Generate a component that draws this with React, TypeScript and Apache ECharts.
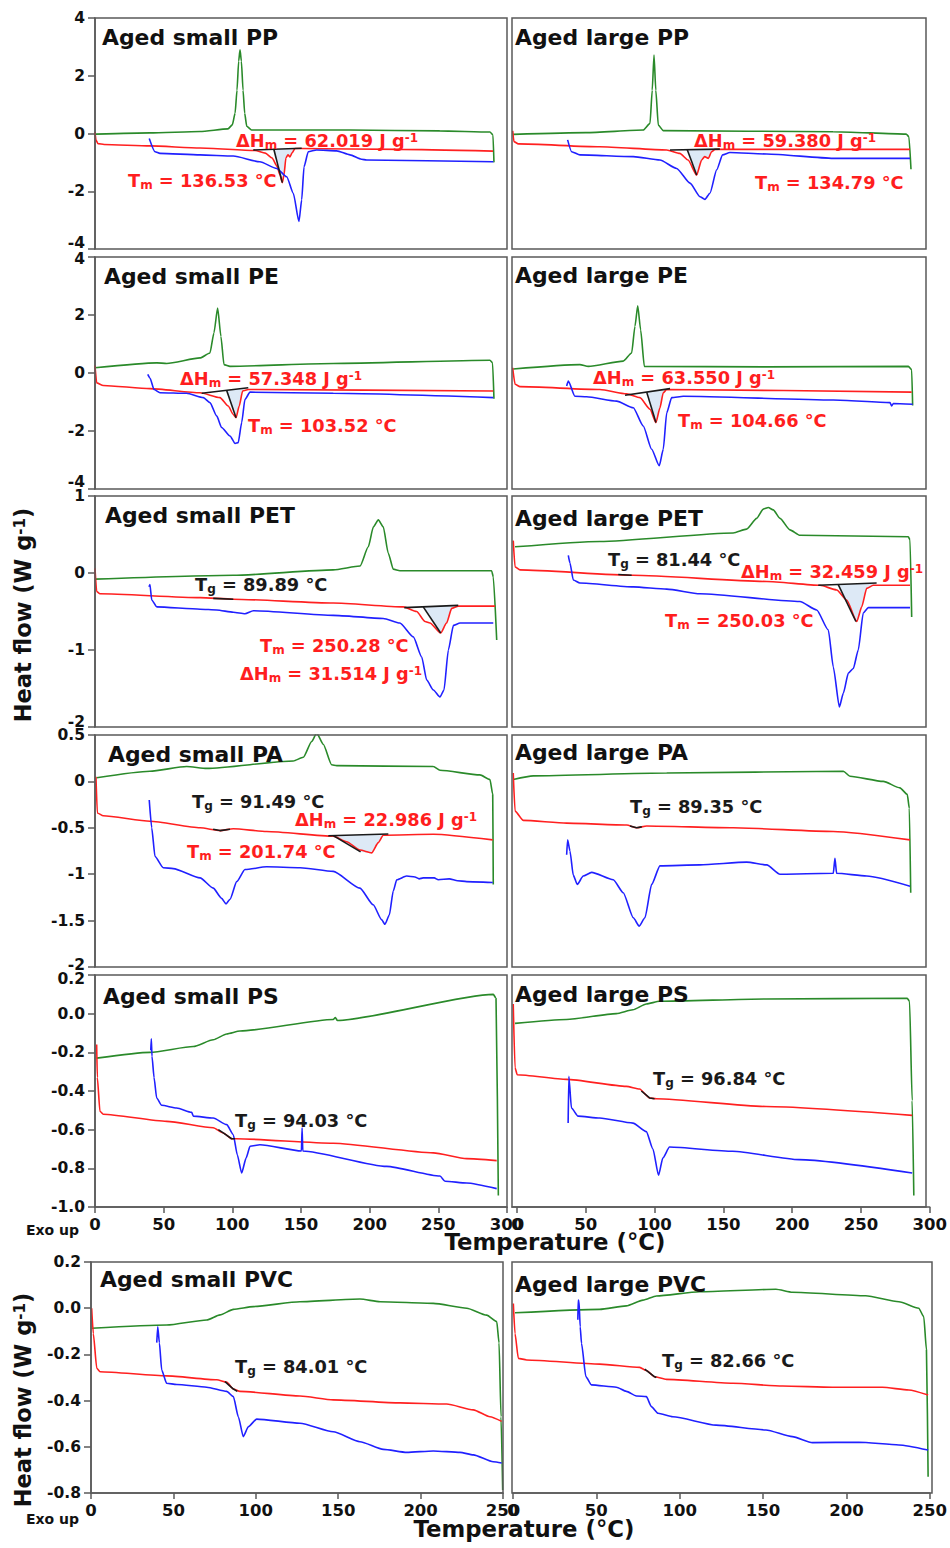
import React, { useEffect, useRef } from "react";
import * as echarts from "echarts";

type Pt = [number, number];

// ---------------- DATA (temperature °C, heat flow W g-1) ----------------
// PP small
const ppSmallGreen: Pt[] = [[0.7,-0.02],[40,0.02],[76.5,0.07],[96.8,0.16],[100,0.3],[102,0.7],[103.4,1.5],[104.6,2.5],[105.6,2.9],[106.6,2.5],[107.8,1.5],[109,0.7],[110.5,0.25],[114,0.12],[185.7,0.12],[251,0.09],[287.6,0.05],[289.8,-0.05],[290.5,-1.0]];
const ppSmallRed: Pt[] = [[0,0.05],[0.7,-0.23],[2.2,-0.35],[6.6,-0.38],[40,-0.43],[76.5,-0.5],[116.5,-0.59],[124,-0.68],[129,-0.85],[132.5,-1.13],[134.7,-1.44],[136.4,-1.7],[137.6,-1.44],[139,-0.85],[140.5,-0.74],[142,-0.81],[143.4,-0.68],[145.6,-0.52],[149,-0.52],[222,-0.55],[289.8,-0.61]];
const ppSmallBlue: Pt[] = [[39.5,-0.17],[43.7,-0.63],[47.3,-0.69],[76.5,-0.74],[100.7,-0.78],[120,-0.98],[132.3,-1.21],[139.6,-1.5],[144.4,-2.07],[148.5,-3.05],[150.5,-2.3],[152.2,-1.15],[155.3,-0.63],[161.4,-0.57],[176,-0.6],[185.7,-0.74],[194,-0.89],[197.8,-0.92],[290,-0.98]];
const ppSmallFill: Pt[] = [[130.3,-0.565],[150.5,-0.51],[145.6,-0.52],[143.4,-0.68],[142,-0.81],[140.5,-0.74],[139,-0.85],[137.6,-1.44],[136.4,-1.7]];
const ppSmallBase: Pt[] = [[115.2,-0.57],[150.5,-0.51]];
const ppSmallTan: Pt[] = [[130.3,-0.565],[136.4,-1.7]];

// PP large
const ppLargeGreen: Pt[] = [[-2.7,-0.03],[50,0.03],[91.5,0.12],[96.4,0.35],[98,1.5],[99.3,2.72],[100.6,1.5],[102.4,0.29],[106,0.1],[229,0.06],[282,-0.02],[284,-0.11],[285.5,-1.24]];
const ppLargeRed: Pt[] = [[-3.1,0.09],[-2.2,-0.28],[1,-0.36],[60,-0.46],[108.5,-0.57],[118,-0.69],[124,-0.92],[130.2,-1.44],[133.8,-0.92],[136,-0.8],[138.7,-0.86],[141,-0.63],[143.5,-0.55],[284.8,-0.55]];
const ppLargeBlue: Pt[] = [[36.7,-0.22],[39.6,-0.63],[45.6,-0.74],[84.3,-0.8],[103.6,-0.92],[115.7,-1.21],[125.4,-1.72],[132.6,-2.19],[136.2,-2.28],[139.8,-2.07],[144.7,-1.26],[149,-0.74],[154.3,-0.66],[181,-0.71],[229.2,-0.86],[284.8,-0.86]];
const ppLargeFill: Pt[] = [[123.4,-0.565],[147,-0.54],[143.5,-0.55],[141,-0.63],[138.7,-0.86],[136,-0.8],[133.8,-0.92],[130.2,-1.44]];
const ppLargeBase: Pt[] = [[110.9,-0.57],[147,-0.54]];
const ppLargeTan: Pt[] = [[123.4,-0.565],[130.2,-1.44]];

// PE small
const peSmallGreen: Pt[] = [[0,0.18],[45,0.35],[52.2,0.33],[76.5,0.52],[83.7,0.69],[86.6,1.38],[89.3,2.24],[91.7,1.26],[93.9,0.29],[98.3,0.23],[173.5,0.33],[287.6,0.44],[289.5,0.35],[290.5,-0.89]];
const peSmallRed: Pt[] = [[0,0.26],[1.2,-0.34],[6,-0.43],[40,-0.54],[76.5,-0.68],[91,-0.85],[97,-1.14],[100.7,-1.43],[102.7,-1.54],[105,-1.14],[107.5,-0.62],[111.6,-0.57],[290,-0.62]];
const peSmallBlue: Pt[] = [[38.4,-0.05],[40,-0.17],[43,-0.57],[47.3,-0.68],[66.7,-0.7],[78.9,-0.85],[83.7,-1.02],[88.6,-1.48],[92.2,-1.88],[98.3,-2.17],[102,-2.43],[104.3,-2.4],[106.8,-1.71],[109.2,-0.91],[112.9,-0.66],[173.5,-0.7],[290,-0.85]];
const peSmallFill: Pt[] = [[95.9,-0.6],[111.6,-0.51],[108.5,-0.56],[107.5,-0.62],[105,-1.14],[102.7,-1.54]];
const peSmallBase: Pt[] = [[77.7,-0.7],[111.6,-0.51]];
const peSmallTan: Pt[] = [[95.9,-0.6],[102.7,-1.54]];

// PE large
const peLargeGreen: Pt[] = [[-2.7,0.14],[45.6,0.29],[51.7,0.23],[77,0.41],[83.1,0.69],[85.5,1.61],[87.5,2.32],[89.6,1.49],[92.3,0.23],[181,0.21],[283.6,0.23],[286,0.12],[286.7,-1.12]];
const peLargeRed: Pt[] = [[-3.1,0.18],[-1.4,-0.39],[2.2,-0.47],[60.1,-0.57],[79.5,-0.72],[89.1,-0.85],[96.4,-1.25],[100.7,-1.71],[103.6,-1.2],[106,-0.68],[108.5,-0.57],[286,-0.66]];
const peLargeBlue: Pt[] = [[36,-0.45],[37.2,-0.28],[42,-0.8],[50.5,-0.82],[72.2,-0.97],[84.3,-1.2],[91.5,-1.83],[97.6,-2.63],[103.1,-3.2],[106,-2.63],[108.5,-1.37],[112.1,-0.85],[120.5,-0.8],[229.2,-0.93],[270.3,-1.02],[271.5,-1.14],[272.7,-1.05],[286.7,-1.08]];
const peLargeFill: Pt[] = [[94,-0.66],[110.9,-0.54],[108.5,-0.57],[106,-0.68],[103.6,-1.2],[100.7,-1.71]];
const peLargeBase: Pt[] = [[78.3,-0.77],[110.9,-0.54]];
const peLargeTan: Pt[] = [[94,-0.66],[100.7,-1.71]];

// PET small
const petSmallGreen: Pt[] = [[0,-0.08],[100.7,-0.03],[173.5,0.04],[193,0.09],[199,0.34],[202.7,0.6],[206.3,0.69],[209.9,0.6],[213.5,0.26],[217.2,0.05],[222,0.03],[288.8,0.03],[290,-0.05],[292.5,-0.87]];
const petSmallRed: Pt[] = [[0,0.06],[1.2,-0.24],[3.6,-0.27],[76.5,-0.32],[100.7,-0.34],[173.5,-0.39],[224.5,-0.44],[234.2,-0.5],[240.3,-0.63],[243.9,-0.65],[251.7,-0.78],[256,-0.65],[259.7,-0.46],[264.5,-0.43],[291.3,-0.43]];
const petSmallBlue: Pt[] = [[39.3,-0.18],[40,-0.15],[41.3,-0.35],[45,-0.44],[76.5,-0.47],[88.6,-0.48],[100.7,-0.51],[109.2,-0.53],[115.3,-0.49],[173.5,-0.55],[209.9,-0.59],[222,-0.65],[231.8,-0.83],[237.9,-1.09],[241.5,-1.39],[246.4,-1.52],[251.2,-1.61],[254.1,-1.52],[257.3,-1.0],[261,-0.68],[265.8,-0.65],[290,-0.65]];
const petSmallFill: Pt[] = [[239,-0.44],[264.5,-0.42],[259.7,-0.46],[256,-0.65],[251.7,-0.78]];
const petSmallBase: Pt[] = [[225.2,-0.45],[264.5,-0.42]];
const petSmallTan: Pt[] = [[239,-0.44],[251.7,-0.78]];
const petSmallTg: Pt[] = [[86.1,-0.33],[100.7,-0.34]];

// PET large
const petLargeGreen: Pt[] = [[-1.4,0.34],[60.1,0.41],[156.7,0.52],[166.4,0.57],[173.7,0.71],[178.5,0.83],[182.1,0.85],[185.7,0.82],[190.6,0.71],[197.8,0.56],[205,0.49],[283.6,0.47],[284.8,0.43],[286,-0.57]];
const petLargeRed: Pt[] = [[-2.7,0.42],[-1.4,0.08],[2.2,0.04],[84.3,-0.03],[181,-0.11],[219.6,-0.16],[231.7,-0.22],[238.9,-0.35],[246.2,-0.63],[249.8,-0.44],[253.4,-0.2],[258.2,-0.16],[284.8,-0.16]];
const petLargeBlue: Pt[] = [[37.2,0.23],[38.4,0.13],[40.8,-0.09],[45.6,-0.13],[84.3,-0.18],[108.5,-0.21],[132.6,-0.27],[205,-0.37],[217.2,-0.48],[225.6,-0.74],[229.2,-1.22],[233.6,-1.74],[236.5,-1.56],[240.1,-1.3],[243.7,-1.24],[247.3,-1.0],[250.9,-0.52],[254.6,-0.45],[284.8,-0.45]];
const petLargeFill: Pt[] = [[232.8,-0.15],[260.6,-0.13],[253.4,-0.2],[249.8,-0.44],[246.2,-0.63]];
const petLargeBase: Pt[] = [[218.3,-0.16],[260.6,-0.13]];
const petLargeTan: Pt[] = [[232.8,-0.15],[245.6,-0.63]];
const petLargeTg: Pt[] = [[73.4,-0.02],[83.1,-0.03]];

// PA small
const paSmallGreen: Pt[] = [[1.2,0.04],[40,0.11],[66.7,0.16],[81.3,0.14],[144.4,0.22],[151.7,0.26],[157.8,0.43],[161.4,0.52],[166.2,0.4],[172.3,0.18],[176,0.17],[246.4,0.16],[251.2,0.12],[280.3,0.07],[287.6,0.02],[289.6,-0.14],[290,-1.11]];
const paSmallRed: Pt[] = [[0.7,0.05],[1.7,-0.34],[6,-0.37],[40,-0.43],[76.5,-0.5],[91,-0.53],[100.7,-0.51],[125,-0.54],[173.5,-0.59],[183.2,-0.65],[192.9,-0.74],[201.4,-0.77],[206.3,-0.66],[209.9,-0.58],[246.4,-0.57],[289.6,-0.63]];
const paSmallBlue: Pt[] = [[39.5,-0.2],[41.3,-0.5],[43.7,-0.81],[49.7,-0.93],[57,-0.94],[76.5,-1.04],[86.1,-1.15],[92.2,-1.26],[95.4,-1.32],[98.3,-1.27],[103.2,-1.08],[109.2,-0.95],[125,-0.92],[149.3,-0.93],[173.5,-0.97],[192.9,-1.15],[202.6,-1.33],[208.7,-1.49],[211.1,-1.54],[214.3,-1.44],[217.2,-1.18],[219.7,-1.06],[226.9,-1.02],[233,-1.03],[236,-1.05],[239,-1.04],[247,-1.04],[250,-1.06],[258,-1.05],[264,-1.07],[270.6,-1.08],[289.6,-1.09]];
const paSmallFill: Pt[] = [[173.5,-0.584],[213.6,-0.567],[209.9,-0.58],[206.3,-0.66],[201.4,-0.77],[193.4,-0.76]];
const paSmallBase: Pt[] = [[169.9,-0.585],[213.6,-0.567]];
const paSmallTan: Pt[] = [[173.5,-0.584],[193.4,-0.76]];
const paSmallTg: Pt[] = [[86,-0.515],[91,-0.53],[98.3,-0.515]];

// PA large
const paLargeGreen: Pt[] = [[-2.7,0.02],[11.8,0.06],[108.5,0.09],[236.5,0.11],[241.3,0.055],[265.4,0.0],[277.5,-0.07],[282.8,-0.14],[284.3,-0.29],[285.3,-1.2]];
const paLargeRed: Pt[] = [[-2.7,0.09],[-1.4,-0.32],[4.6,-0.42],[36,-0.45],[79.5,-0.47],[86.7,-0.5],[94,-0.48],[156.7,-0.5],[229.2,-0.54],[284.8,-0.63]];
const paLargeBlue: Pt[] = [[36,-0.79],[36.7,-0.63],[38.4,-0.75],[40.8,-1.01],[43.7,-1.11],[48,-1.02],[54.1,-0.98],[69.8,-1.06],[77,-1.2],[84.3,-1.47],[88.6,-1.56],[92.7,-1.47],[97.6,-1.11],[103.6,-0.91],[132.6,-0.9],[166.4,-0.87],[181,-0.9],[190.6,-1.0],[229.2,-0.99],[230.4,-0.83],[231.6,-0.99],[253.4,-1.02],[284.8,-1.13]];
const paLargeTg: Pt[] = [[81.9,-0.48],[86.7,-0.5],[90.4,-0.49]];

// PS small
const psSmallGreen: Pt[] = [[1.2,-0.23],[40,-0.2],[71.6,-0.17],[86.1,-0.135],[95.9,-0.105],[105.6,-0.09],[173.5,-0.03],[175,-0.02],[176.5,-0.035],[290,0.1],[292,0.08],[293.7,-0.94]];
const psSmallRed: Pt[] = [[1.2,-0.16],[1.7,-0.33],[3.6,-0.505],[6,-0.52],[52.2,-0.557],[86.1,-0.59],[93.4,-0.617],[99.5,-0.647],[103.2,-0.647],[173.5,-0.67],[246.4,-0.72],[270.6,-0.75],[292.5,-0.76]];
const psSmallBlue: Pt[] = [[40.6,-0.19],[41,-0.13],[41.5,-0.22],[43,-0.33],[44.9,-0.436],[48.5,-0.474],[59.5,-0.488],[70.4,-0.51],[71.6,-0.53],[86.1,-0.54],[95.9,-0.574],[100.7,-0.626],[103.6,-0.73],[106.8,-0.824],[110,-0.747],[112.9,-0.686],[120.1,-0.678],[150.3,-0.71],[150.8,-0.59],[151.3,-0.71],[212.4,-0.79],[251.2,-0.84],[254.9,-0.867],[270.6,-0.876],[292.5,-0.905]];
const psSmallTg: Pt[] = [[89.8,-0.6],[93.4,-0.617],[99.5,-0.647],[102,-0.647]];

// PS large
const psLargeGreen: Pt[] = [[-1.4,-0.05],[36,-0.03],[72.2,0.0],[84.3,0.02],[94,0.05],[103.6,0.064],[181,0.076],[283.6,0.08],[285.3,0.064],[287.2,-0.45],[288.4,-0.94]];
const psLargeRed: Pt[] = [[-2.7,0.05],[-1.4,-0.28],[0.2,-0.316],[36,-0.34],[79.5,-0.376],[89.1,-0.39],[96.4,-0.436],[101.2,-0.44],[181,-0.48],[287.2,-0.526]];
const psLargeBlue: Pt[] = [[37.2,-0.566],[37.7,-0.324],[39.6,-0.488],[44.4,-0.53],[60.1,-0.54],[84.3,-0.566],[94,-0.61],[98.8,-0.7],[102.9,-0.836],[106,-0.747],[110.9,-0.69],[156.7,-0.712],[205,-0.755],[287.2,-0.824]];
const psLargeTg: Pt[] = [[90.4,-0.4],[96.4,-0.436],[100,-0.44]];

// PVC small
const pvcSmallGreen: Pt[] = [[0.4,-0.087],[45.9,-0.073],[70.2,-0.051],[78.3,-0.029],[86.4,-0.005],[98.5,0.007],[126.8,0.028],[163.2,0.04],[175.4,0.028],[207.7,0.021],[228,0.0],[240.1,-0.03],[246.2,-0.058],[247.6,-0.15],[248.8,-0.47],[249.8,-0.787]];
const pvcSmallRed: Pt[] = [[0.4,0.0],[1.4,-0.11],[3.5,-0.26],[5.5,-0.275],[45.9,-0.293],[76.3,-0.31],[82.3,-0.32],[86.4,-0.35],[90.4,-0.36],[126.8,-0.38],[147,-0.397],[187.5,-0.41],[215.8,-0.415],[232,-0.44],[242.1,-0.47],[249.2,-0.49]];
const pvcSmallBlue: Pt[] = [[39.9,-0.149],[40.5,-0.08],[41.5,-0.15],[42.9,-0.268],[45.9,-0.325],[52,-0.33],[70.2,-0.342],[82.3,-0.36],[86.4,-0.383],[89.4,-0.47],[92.4,-0.556],[95.5,-0.513],[100.5,-0.48],[126.8,-0.498],[147,-0.535],[163.2,-0.578],[177.4,-0.611],[191.6,-0.624],[207.7,-0.618],[223.9,-0.624],[232,-0.635],[244.1,-0.665],[249.2,-0.67]];
const pvcSmallTg: Pt[] = [[81.3,-0.318],[86.4,-0.35],[88.8,-0.36]];

// PVC large
const pvcLargeGreen: Pt[] = [[1.2,-0.02],[52,-0.005],[68,0.01],[78,0.035],[86,0.053],[111.8,0.071],[157.7,0.082],[167.6,0.069],[211.5,0.054],[231.5,0.028],[243.4,0.0],[246.4,-0.037],[248,-0.18],[249,-0.73]];
const pvcLargeRed: Pt[] = [[0.2,0.02],[1.2,-0.11],[3.2,-0.217],[8.2,-0.224],[52,-0.242],[76,-0.256],[80,-0.27],[85,-0.297],[92,-0.308],[131.8,-0.325],[161.7,-0.337],[191.6,-0.342],[221.5,-0.342],[237.4,-0.354],[249,-0.376]];
const pvcLargeBlue: Pt[] = [[38.9,-0.05],[39.1,0.035],[39.6,0.03],[40.3,-0.08],[41.1,-0.152],[43.7,-0.296],[47,-0.332],[62,-0.342],[68,-0.36],[74,-0.38],[80,-0.383],[83,-0.426],[87,-0.455],[95.9,-0.47],[121.8,-0.506],[151.7,-0.527],[167.6,-0.556],[179.6,-0.582],[207.5,-0.58],[231.5,-0.592],[249,-0.614]];
const pvcLargeTg: Pt[] = [[79,-0.264],[85,-0.297],[86,-0.3]];

// tick values
const tempTicks300 = [0, 50, 100, 150, 200, 250, 300];
const tempTicks250 = [0, 50, 100, 150, 200, 250];

// titles
const titles = ["Aged small PP","Aged large PP","Aged small PE","Aged large PE","Aged small PET","Aged large PET","Aged small PA","Aged large PA","Aged small PS","Aged large PS","Aged small PVC","Aged large PVC"];

// ---------------- STYLE / LAYOUT ----------------
const FONT = '"DejaVu Sans", Verdana, sans-serif';
const GREEN = "#2a8a2a";
const RED = "#ff2020";
const BLUE = "#2020ff";
const BLACK = "#1a1a1a";
const FILL = "#dde9f6";
const FRAME = "#5a5a5a";
const TRED = "#ff1e1e";
const TICK_FS = 15.5;

// minShift / maxShift: vertical nudge (px) of the end tick labels, as in the reference
const ROWS = [
  { top: 18, height: 231, yMin: -4, yMax: 4, yInt: 2, fix: false, minShift: -6, maxShift: 0 },
  { top: 257, height: 232, yMin: -4, yMax: 4, yInt: 2, fix: false, minShift: -7, maxShift: 2 },
  { top: 496, height: 231, yMin: -2, yMax: 1, yInt: 1, fix: false, minShift: -5, maxShift: 0 },
  { top: 735, height: 232, yMin: -2, yMax: 0.5, yInt: 0.5, fix: false, minShift: -2, maxShift: 0 },
  { top: 975, height: 232, yMin: -1, yMax: 0.2, yInt: 0.2, fix: true, minShift: 0, maxShift: 4 },
  { top: 1262, height: 231, yMin: -0.8, yMax: 0.2, yInt: 0.2, fix: true, minShift: 0, maxShift: 0 },
];
const COL_L = { left: 95, width: 412, xMin: 0, xMax: 300, fx: 95, fw: 412, ticks: tempTicks300 };
const COL_R = { left: 512, width: 419, xMin: -3.6, xMax: 300, fx: 512, fw: 414, ticks: tempTicks300 };
const COL_L6 = { left: 91, width: 412, xMin: 0, xMax: 250, fx: 91, fw: 412, ticks: tempTicks250 };
const COL_R6 = { left: 513, width: 418, xMin: 0, xMax: 250, fx: 512, fw: 420, ticks: tempTicks250 };

type PanelData = { green: Pt[]; red: Pt[]; blue: Pt[]; fill?: Pt[]; black: Pt[][] };
const PANELS: PanelData[] = [
  { green: ppSmallGreen, red: ppSmallRed, blue: ppSmallBlue, fill: ppSmallFill, black: [ppSmallBase, ppSmallTan] },
  { green: ppLargeGreen, red: ppLargeRed, blue: ppLargeBlue, fill: ppLargeFill, black: [ppLargeBase, ppLargeTan] },
  { green: peSmallGreen, red: peSmallRed, blue: peSmallBlue, fill: peSmallFill, black: [peSmallBase, peSmallTan] },
  { green: peLargeGreen, red: peLargeRed, blue: peLargeBlue, fill: peLargeFill, black: [peLargeBase, peLargeTan] },
  { green: petSmallGreen, red: petSmallRed, blue: petSmallBlue, fill: petSmallFill, black: [petSmallBase, petSmallTan, petSmallTg] },
  { green: petLargeGreen, red: petLargeRed, blue: petLargeBlue, fill: petLargeFill, black: [petLargeBase, petLargeTan, petLargeTg] },
  { green: paSmallGreen, red: paSmallRed, blue: paSmallBlue, fill: paSmallFill, black: [paSmallBase, paSmallTan, paSmallTg] },
  { green: paLargeGreen, red: paLargeRed, blue: paLargeBlue, black: [paLargeTg] },
  { green: psSmallGreen, red: psSmallRed, blue: psSmallBlue, black: [psSmallTg] },
  { green: psLargeGreen, red: psLargeRed, blue: psLargeBlue, black: [psLargeTg] },
  { green: pvcSmallGreen, red: pvcSmallRed, blue: pvcSmallBlue, black: [pvcSmallTg] },
  { green: pvcLargeGreen, red: pvcLargeRed, blue: pvcLargeBlue, black: [pvcLargeTg] },
];

// title positions (left x, cap-centre y)
const TITLE_POS: [number, number][] = [
  [102, 37], [515, 37], [104, 276], [515, 275], [105, 515], [515, 518],
  [108, 754], [515, 752], [103, 996], [515, 994], [100, 1279], [515, 1284],
];

// annotations: [x, y, kind, value, colour]
type Ann = [number, number, "dh" | "tm" | "tg", string, string];
const ANNS: Ann[] = [
  [236, 140, "dh", "62.019", TRED], [128, 180, "tm", "136.53", TRED],
  [694, 140, "dh", "59.380", TRED], [755, 182, "tm", "134.79", TRED],
  [180, 378, "dh", "57.348", TRED], [248, 425, "tm", "103.52", TRED],
  [593, 377, "dh", "63.550", TRED], [678, 420, "tm", "104.66", TRED],
  [195, 584, "tg", "89.89", BLACK], [260, 645, "tm", "250.28", TRED], [240, 673, "dh", "31.514", TRED],
  [608, 559, "tg", "81.44", BLACK], [741, 571, "dh", "32.459", TRED], [665, 620, "tm", "250.03", TRED],
  [192, 801, "tg", "91.49", BLACK], [295, 819, "dh", "22.986", TRED], [187, 851, "tm", "201.74", TRED],
  [630, 806, "tg", "89.35", BLACK],
  [235, 1120, "tg", "94.03", BLACK],
  [653, 1078, "tg", "96.84", BLACK],
  [235, 1366, "tg", "84.01", BLACK],
  [662, 1360, "tg", "82.66", BLACK],
];

function rich(color: string, size: number) {
  const sub = Math.round(size * 0.65);
  const base = { fontWeight: "bold", fontFamily: FONT, fill: color, color };
  return {
    n: { ...base, fontSize: size },
    s: { ...base, fontSize: sub, padding: [Math.round(size * 0.53), 0, 0, 0] },
    p: { ...base, fontSize: sub, padding: [0, 0, Math.round(size * 0.3), 0] },
  };
}

function textEl(x: number, y: number, text: string, color: string, size: number, align = "left", rotation = 0) {
  return {
    type: "text",
    x, y, rotation,
    silent: true,
    z: 100,
    style: {
      text,
      rich: rich(color, size),
      fill: color,
      fontSize: size,
      fontWeight: "bold",
      fontFamily: FONT,
      textAlign: align, align,
      textVerticalAlign: "middle", verticalAlign: "middle",
    },
  };
}

function annText(kind: string, v: string) {
  if (kind === "dh") return `{n|ΔH}{s|m}{n| = ${v} J g}{p|-1}`;
  if (kind === "tm") return `{n|T}{s|m}{n| = ${v} °C}`;
  return `{n|T}{s|g}{n| = ${v} °C}`;
}

function buildOption() {
  const grid: any[] = [];
  const xAxis: any[] = [];
  const yAxis: any[] = [];
  const series: any[] = [];
  const graphic: any[] = [];

  PANELS.forEach((p, i) => {
    const r = Math.floor(i / 2);
    const row = ROWS[r];
    const isLeft = i % 2 === 0;
    const col = r === 5 ? (isLeft ? COL_L6 : COL_R6) : isLeft ? COL_L : COL_R;
    const showX = r >= 4;
    grid.push({ left: col.left, top: row.top, width: col.width, height: row.height, show: false });
    xAxis.push({
      type: "value", gridIndex: i, min: col.xMin, max: col.xMax, show: showX,
      axisLine: { show: true, onZero: false, lineStyle: { color: FRAME, width: 1.5 } },
      axisTick: { show: true, length: 6, customValues: col.ticks, lineStyle: { color: FRAME, width: 1.5 } },
      axisLabel: { show: true, customValues: col.ticks, fontSize: 16.5, fontWeight: "bold", color: "#111", fontFamily: FONT, margin: 9 },
      splitLine: { show: false },
    });
    const lab = { fontSize: TICK_FS, fontWeight: "bold", color: "#111", fontFamily: FONT };
    const fmt = (v: number) => (row.fix ? v.toFixed(1) : String(Math.round(v * 100) / 100));
    yAxis.push({
      type: "value", gridIndex: i, min: row.yMin, max: row.yMax, interval: row.yInt, show: isLeft,
      axisLine: { show: true, onZero: false, lineStyle: { color: FRAME, width: 1.5 } },
      axisTick: { show: true, length: 7, lineStyle: { color: FRAME, width: 1.5 } },
      axisLabel: {
        show: true, ...lab, margin: 10,
        formatter: (v: number) => {
          const s = fmt(v);
          if (Math.abs(v - row.yMin) < 1e-9 && row.minShift) return `{lo|${s}}`;
          if (Math.abs(v - row.yMax) < 1e-9 && row.maxShift) return `{hi|${s}}`;
          return s;
        },
        rich: {
          lo: { ...lab, padding: [0, 0, -2 * row.minShift, 0] },
          hi: { ...lab, padding: [2 * row.maxShift, 0, 0, 0] },
        },
      },
      splitLine: { show: false },
    });
    const base = { xAxisIndex: i, yAxisIndex: i, silent: true, animation: false };
    if (p.fill) {
      const pts = p.fill;
      series.push({
        ...base, type: "custom", data: [pts[0]], z: 1,
        renderItem: (_params: any, api: any) => ({
          type: "polygon",
          shape: { points: pts.map((q) => api.coord(q)) },
          style: { fill: FILL, stroke: "none" },
        }),
      });
    }
    ([[p.green, GREEN], [p.red, RED], [p.blue, BLUE]] as [Pt[], string][]).forEach(([d, c]) => {
      series.push({
        ...base, type: "line", data: d, symbol: "none", showSymbol: false, z: 2, clip: true,
        smooth: 0.2, smoothMonotone: "x",
        lineStyle: { color: c, width: 1.6 },
      });
    });
    p.black.forEach((seg) => {
      series.push({ ...base, type: "line", data: seg, symbol: "none", showSymbol: false, z: 3, lineStyle: { color: BLACK, width: 1.6 } });
    });
    graphic.push({
      type: "rect", silent: true, z: 50,
      shape: { x: col.fx, y: row.top, width: col.fw, height: row.height },
      style: { fill: "none", stroke: FRAME, lineWidth: 1.5 },
    });
    graphic.push(textEl(TITLE_POS[i][0], TITLE_POS[i][1], `{n|${titles[i]}}`, "#111", 21.9));
  });

  ANNS.forEach(([x, y, kind, v, c]) => graphic.push(textEl(x, y, annText(kind, v), c, 17.8)));

  // axis titles
  graphic.push(textEl(555, 1242, "{n|Temperature (°C)}", "#111", 22.8, "center"));
  graphic.push(textEl(524, 1529, "{n|Temperature (°C)}", "#111", 22.8, "center"));
  graphic.push(textEl(23, 615, "{n|Heat flow (W g}{p|-1}{n|)}", "#111", 22.5, "center", Math.PI / 2));
  graphic.push(textEl(23, 1400, "{n|Heat flow (W g}{p|-1}{n|)}", "#111", 22.5, "center", Math.PI / 2));
  graphic.push(textEl(26, 1230, "{n|Exo up}", "#111", 14));
  graphic.push(textEl(26, 1519, "{n|Exo up}", "#111", 14));

  return {
    animation: false,
    backgroundColor: "#ffffff",
    textStyle: { fontFamily: FONT },
    grid, xAxis, yAxis, series, graphic,
  };
}

export default function App() {
  const ref = useRef<HTMLDivElement>(null);
  useEffect(() => {
    document.body.style.margin = "0";
    document.body.style.overflow = "hidden";
    if (!ref.current) return;
    const chart = echarts.init(ref.current, null, { renderer: "svg" });
    chart.setOption(buildOption() as any);
    return () => chart.dispose();
  }, []);
  return <div ref={ref} style={{ width: 950, height: 1548 }} />;
}
